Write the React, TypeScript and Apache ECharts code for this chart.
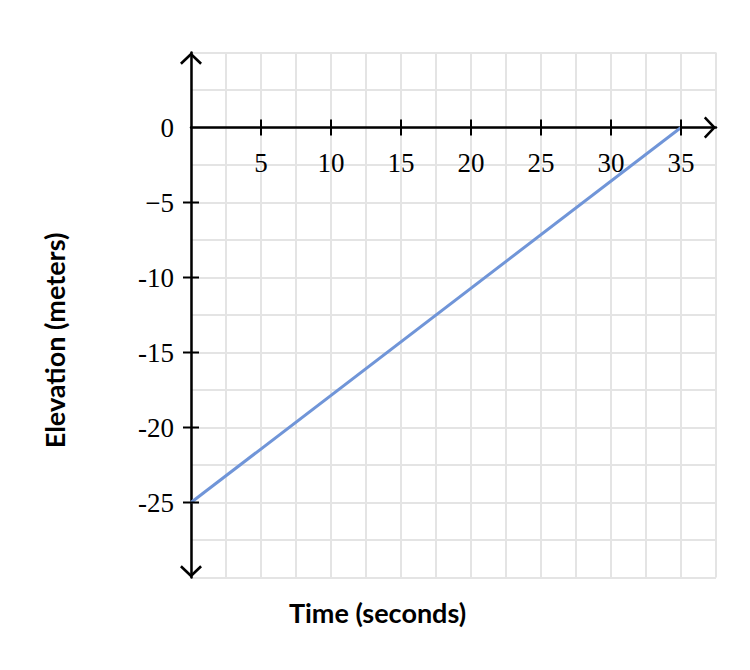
import React, { useEffect, useRef } from "react";
import * as echarts from "echarts";

const xTickValues = [5, 10, 15, 20, 25, 30, 35];
const xLabelTexts = ["5", "10", "15", "20", "25", "30", "35"];
const yTickValues = [-25, -20, -15, -10, -5];
const yLabelValues = [-25, -20, -15, -10, -5, 0];
const yLabelTexts = ["-25", "-20", "-15", "-10", "\u22125", "0"];
const lineData: [number, number][] = [
  [0, -25],
  [35, 0],
];
const xTitle = "Time (seconds)";
const yTitle = "Elevation (meters)";

const CHEVRON = "path://M11,0 L22,10.5 L20.2,12.3 L11,3.6 L1.8,12.3 L0,10.5 Z";
const GRID_COLOR = "#e4e4e4";
const AXIS_COLOR = "#000";
const LABEL_FONT = "'Liberation Serif', 'DejaVu Serif', serif";
const TICK_HALF = 8;

export default function App() {
  const ref = useRef<HTMLDivElement>(null);
  useEffect(() => {
    if (!ref.current) return;
    const chart = echarts.init(ref.current, null, { renderer: "svg" });
    const axisLineStyle = { color: AXIS_COLOR, width: 2.5 };
    const option: any = {
      animation: false,
      backgroundColor: "#fff",
      grid: { left: 191, top: 52.5, width: 525, height: 525, containLabel: false },
      xAxis: {
        type: "value",
        min: 0,
        max: 37.5,
        interval: 2.5,
        axisLine: {
          show: true,
          onZero: true,
          lineStyle: axisLineStyle,
          symbol: ["none", CHEVRON],
          symbolSize: [22, 12.3],
          symbolOffset: [0, -6],
        },
        axisTick: { show: false },
        axisLabel: { show: false },
        splitLine: { show: true, lineStyle: { color: GRID_COLOR, width: 2 } },
        z: 1,
      },
      yAxis: {
        type: "value",
        min: -30,
        max: 5,
        interval: 2.5,
        position: "left",
        axisLine: {
          show: true,
          onZero: true,
          lineStyle: axisLineStyle,
          symbol: [CHEVRON, CHEVRON],
          symbolSize: [22, 12.3],
          symbolOffset: [6, -6],
        },
        axisTick: { show: false },
        axisLabel: {
          show: true,
          customValues: yLabelValues,
          margin: 17,
          color: "#000",
          fontFamily: LABEL_FONT,
          fontSize: 27,
          formatter: (v: number) => {
            const i = yLabelValues.indexOf(v);
            return i >= 0 ? yLabelTexts[i] : "";
          },
        },
        splitLine: { show: true, lineStyle: { color: GRID_COLOR, width: 2 } },
        z: 1,
      },
      graphic: [
        {
          type: "text",
          x: 377.5,
          y: 612,
          style: {
            text: xTitle,
            fontFamily: "Lato",
            fontWeight: 700,
            fontSize: 27,
            fill: "#000",
            align: "center",
            verticalAlign: "middle",
          },
        },
        {
          type: "text",
          x: 54,
          y: 340.5,
          rotation: Math.PI / 2,
          style: {
            text: yTitle,
            fontFamily: "Lato",
            fontWeight: 700,
            fontSize: 27,
            fill: "#000",
            align: "center",
            verticalAlign: "middle",
          },
        },
      ],
      series: [
        {
          type: "line",
          data: lineData,
          symbol: "none",
          lineStyle: { color: "#7095d8", width: 3 },
          z: 4,
        },
        {
          type: "custom",
          clip: false,
          z: 6,
          silent: true,
          data: xTickValues.map((v, i) => [v, 0, i]),
          renderItem: (_p: any, api: any) => {
            const c = api.coord([api.value(0), api.value(1)]);
            const label = xLabelTexts[api.value(2)];
            return {
              type: "group",
              children: [
                {
                  type: "line",
                  shape: { x1: c[0], y1: c[1] - TICK_HALF, x2: c[0], y2: c[1] + TICK_HALF },
                  style: { stroke: AXIS_COLOR, lineWidth: 2 },
                },
                {
                  type: "text",
                  x: c[0],
                  y: c[1] + 35,
                  style: {
                    text: label,
                    fontFamily: LABEL_FONT,
                    fontSize: 27,
                    fill: "#000",
                    align: "center",
                    verticalAlign: "middle",
                  },
                },
              ],
            };
          },
        },
        {
          type: "custom",
          clip: false,
          z: 6,
          silent: true,
          data: yTickValues.map((v) => [0, v]),
          renderItem: (_p: any, api: any) => {
            const c = api.coord([api.value(0), api.value(1)]);
            return {
              type: "line",
              shape: { x1: c[0] - TICK_HALF, y1: c[1], x2: c[0] + TICK_HALF, y2: c[1] },
              style: { stroke: AXIS_COLOR, lineWidth: 2 },
            };
          },
        },
      ],
    };
    chart.setOption(option);
    return () => chart.dispose();
  }, []);
  return (
    <div
      ref={ref}
      style={{ position: "absolute", left: 0, top: 0, width: 750, height: 670 }}
    />
  );
}
